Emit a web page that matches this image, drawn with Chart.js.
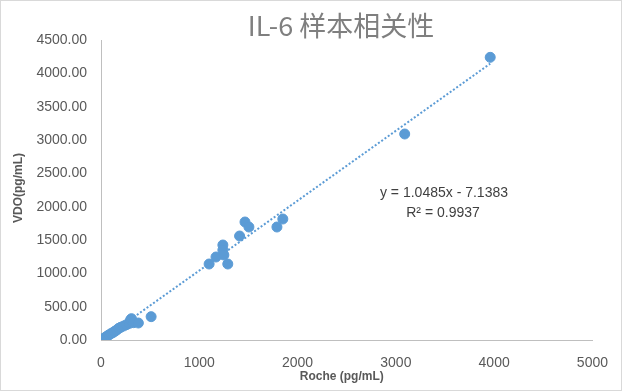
<!DOCTYPE html>
<html>
<head>
<meta charset="utf-8">
<script src="https://cdn.jsdelivr.net/npm/chart.js@4/dist/chart.umd.min.js"></script>
<style>
  html, body { margin: 0; padding: 0; background: #fff; }
  #wrap { width: 623px; height: 392px; position: relative; }
</style>
</head>
<body>
<div id="wrap"><canvas id="myChart" width="623" height="392"></canvas></div>
<script>
// sample values
const rocheValues = [0, 10, 20, 35, 50, 65, 80, 100, 120, 140, 160, 180, 200, 230, 260, 290, 300, 310, 330, 380, 510,
	1100, 1170, 1240, 1240, 1250, 1290, 1410, 1465, 1505, 1790, 1850, 3090, 3960];
const vdoValues = [0, 5, 15, 30, 45, 60, 75, 95, 110, 130, 150, 175, 190, 210, 230, 250, 300, 320, 260, 255, 350,
	1140, 1245, 1425, 1350, 1275, 1140, 1560, 1770, 1695, 1695, 1815, 3090, 4240];
const xTicks = [0, 1000, 2000, 3000, 4000, 5000];
const yTicks = [0, 500, 1000, 1500, 2000, 2500, 3000, 3500, 4000, 4500];
const slope = 1.0485;
const intercept = -7.1383;
const rSquared = 0.9937;

const blue = '#5B9BD5';
const points = rocheValues.map((x, i) => ({ x: x, y: vdoValues[i] }));
const xMin = Math.min(...rocheValues);
const xMax = Math.max(...rocheValues);
const trend = [xMin, xMax].map(x => ({ x: x, y: slope * x + intercept }));

const textPlugin = {
	id: 'texts',
	beforeDraw(chart) {
		const c = chart.ctx;
		c.save();
		c.strokeStyle = '#d9d9d9';
		c.lineWidth = 1;
		c.strokeRect(0.5, 0.5, chart.width - 2, chart.height - 2);
		c.restore();
	},
	afterDraw(chart) {
		const c = chart.ctx;
		const area = chart.chartArea;
		c.save();
		c.textAlign = 'center';
		c.textBaseline = 'middle';
		// title
		c.fillStyle = '#7f7f7f';
		c.font = '27px "Noto Sans CJK SC", "Liberation Sans", sans-serif';
		c.fillText('IL-6 样本相关性', 341, 26);
		// axis titles
		c.fillStyle = '#595959';
		c.font = 'bold 12px "Liberation Sans", Arial, sans-serif';
		c.fillText('Roche (pg/mL)', (area.left + area.right) / 2 - 5, 377);
		c.translate(19, 188);
		c.rotate(-Math.PI / 2);
		c.fillText('VDO(pg/mL)', 0, 0);
		c.restore();
		// trendline label
		c.save();
		c.textAlign = 'center';
		c.textBaseline = 'middle';
		c.fillStyle = '#404040';
		c.font = '14px "Liberation Sans", Arial, sans-serif';
		const sign = intercept < 0 ? ' - ' : ' + ';
		c.fillText('y = ' + slope.toFixed(4) + 'x' + sign + Math.abs(intercept).toFixed(4), 444, 193);
		c.fillText('R² = ' + rSquared.toFixed(4), 443, 213);
		c.restore();
	}
};

const ctx = document.getElementById('myChart').getContext('2d');

new Chart(ctx, {
	type: 'scatter',
	data: {
		datasets: [{
			label: 'samples',
			data: points,
			backgroundColor: blue,
			borderColor: blue,
			pointRadius: 5,
			pointHoverRadius: 5,
			order: 1
		}, {
			type: 'line',
			label: 'trend',
			data: trend,
			borderColor: blue,
			borderWidth: 2,
			borderDash: [2, 2],
			pointRadius: 0,
			fill: false,
			order: 2
		}]
	},
	options: {
		responsive: false,
		animation: false,
		devicePixelRatio: 1,
		layout: { padding: { top: 40, right: 26, left: 1, bottom: 0 } },
		scales: {
			x: {
				type: 'linear',
				min: 0,
				max: 5000,
				afterBuildTicks: s => { s.ticks = xTicks.map(v => ({ value: v })); },
				afterFit: s => { s.height = 52; },
				grid: { display: false, drawTicks: false },
				border: { display: true, color: '#bfbfbf', width: 1 },
				ticks: {
					color: '#595959',
					padding: 15,
					maxRotation: 0,
					autoSkip: false,
					font: { family: '"Liberation Sans", Arial, sans-serif', size: 14 },
					callback: v => String(v)
				}
			},
			y: {
				type: 'linear',
				min: 0,
				max: 4500,
				afterBuildTicks: s => { s.ticks = yTicks.map(v => ({ value: v })); },
				afterFit: s => { s.width = 100; },
				grid: { display: false, drawTicks: false },
				border: { display: true, color: '#bfbfbf', width: 1 },
				ticks: {
					color: '#595959',
					padding: 14,
					autoSkip: false,
					font: { family: '"Liberation Sans", Arial, sans-serif', size: 14 },
					callback: v => Number(v).toFixed(2)
				}
			}
		},
		plugins: {
			legend: { display: false },
			tooltip: { enabled: false }
		}
	},
	plugins: [textPlugin]
});
</script>
</body>
</html>
